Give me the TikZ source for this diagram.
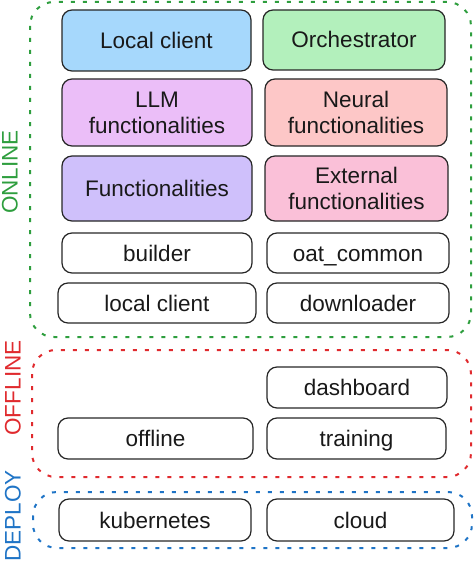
\documentclass[tikz,border=0pt]{standalone}
\usepackage{fontspec}
\setmainfont{Liberation Sans}
\definecolor{cLocal}{HTML}{A6D8FC}
\definecolor{cOrch}{HTML}{B3F0BC}
\definecolor{cLLM}{HTML}{EBBEF8}
\definecolor{cNeural}{HTML}{FDC7C7}
\definecolor{cFunc}{HTML}{CFC0FB}
\definecolor{cExt}{HTML}{FAC0D8}
\definecolor{gOn}{HTML}{2E9E3E}
\definecolor{rOff}{HTML}{E02A2E}
\definecolor{bDep}{HTML}{1F74C6}
\begin{document}
\begin{tikzpicture}[x=1bp,y=-1bp,
  mbox/.style={draw=black!85, line width=1.2bp, rounded corners=10bp, align=center,
    font=\fontsize{22.5bp}{26bp}\selectfont, inner sep=0pt, text=black!90,
    text height=16bp, text depth=0pt},
  twoline/.style={text height=42bp},
  grp/.style={line width=2bp, dash pattern=on 4bp off 8bp, rounded corners=24bp},
  glabel/.style={rotate=90, font=\fontsize{22.5bp}{26bp}\selectfont, inner sep=0pt}]
\useasboundingbox (0,0) rectangle (474,564);
% groups
\draw[grp, gOn] (30,2) rectangle (471,337);
\draw[grp, rOff] (32,350) rectangle (471,477);
\draw[grp, bDep] (33,492) rectangle (472,548);
\node[glabel, text=gOn] (lon) at (10,172) {ONLINE};
\node[glabel, text=rOff] (loff) at (13,388) {OFFLINE};
\node[glabel, text=bDep] (ldep) at (13,516) {DEPLOY};
% online boxes
\node[mbox, fill=cLocal, minimum width=189bp, minimum height=61bp] (lc) at (156.5,40.5) {Local client};
\node[mbox, fill=cOrch, minimum width=182bp, minimum height=60bp] (orch) at (354,40) {Orchestrator};
\node[mbox, twoline, fill=cLLM, minimum width=190bp, minimum height=67bp] (llm) at (157,112.5) {LLM\\functionalities};
\node[mbox, twoline, fill=cNeural, minimum width=182bp, minimum height=67bp] (neur) at (356,112.5) {Neural\\functionalities};
\node[mbox, fill=cFunc, minimum width=190bp, minimum height=65bp] (func) at (157,188.5) {Functionalities};
\node[mbox, twoline, fill=cExt, minimum width=183bp, minimum height=65bp] (ext) at (356.5,188.5) {External\\functionalities};
\node[mbox, minimum width=190bp, minimum height=40bp] (bld) at (157,253) {builder};
\node[mbox, minimum width=182bp, minimum height=40bp] (oat) at (358,253) {oat\_common};
\node[mbox, minimum width=198bp, minimum height=40bp] (lcl) at (157,303) {local client};
\node[mbox, minimum width=182bp, minimum height=40bp] (dl) at (358,303) {downloader};
% offline
\node[mbox, minimum width=180bp, minimum height=41bp] (dash) at (357,387.5) {dashboard};
\node[mbox, minimum width=195bp, minimum height=41bp] (off) at (155.5,438.5) {offline};
\node[mbox, minimum width=179bp, minimum height=41bp] (tr) at (356.5,438.5) {training};
% deploy
\node[mbox, minimum width=192bp, minimum height=42bp] (kub) at (155,520) {kubernetes};
\node[mbox, minimum width=187bp, minimum height=42bp] (cld) at (360.5,520) {cloud};
\end{tikzpicture}
\end{document}
